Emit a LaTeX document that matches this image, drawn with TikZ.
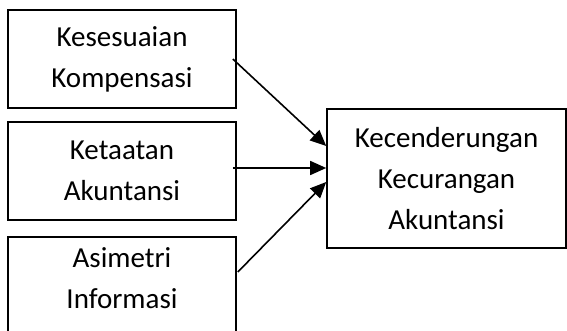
\documentclass[tikz,border=0pt]{standalone}
\usepackage{fontspec}
\setmainfont{Carlito}
\usetikzlibrary{arrows.meta}

\begin{document}
\begin{tikzpicture}[x=1pt,y=-1pt,
		kotak/.style={draw, line width=1.6pt, minimum width=228pt, minimum height=98pt, inner sep=0pt},
		teks/.style={align=center, font=\fontsize{29}{41}\selectfont},
		panah/.style={line width=1.6pt, -{Triangle[length=16pt,width=14pt]}}]
			\useasboundingbox (0,0) rectangle (567,331);
			\node[kotak, teks] (komp) at (122,59) {Kesesuaian\\Kompensasi};
			\node[kotak, teks] (taat) at (122,171) {Ketaatan\\Akuntansi};
			\node[kotak] (asim) at (122,286) {};
			\node[teks] (asimteks) at (122,278) {Asimetri\\Informasi};
			\node[kotak, teks, minimum width=239pt, minimum height=139pt] (curang) at (446.5,178.5) {Kecenderungan\\Kecurangan\\Akuntansi};
			\draw[panah] ([xshift=-4pt]komp.east) -- ([yshift=32.5pt]curang.west);
			\draw[panah] ([xshift=-4pt,yshift=3pt]taat.east) -- ([yshift=10.5pt]curang.west);
			\draw[panah] ([xshift=1pt,yshift=14pt]asim.east) -- ([yshift=-3.5pt]curang.west);
		\end{tikzpicture}
\end{document}
